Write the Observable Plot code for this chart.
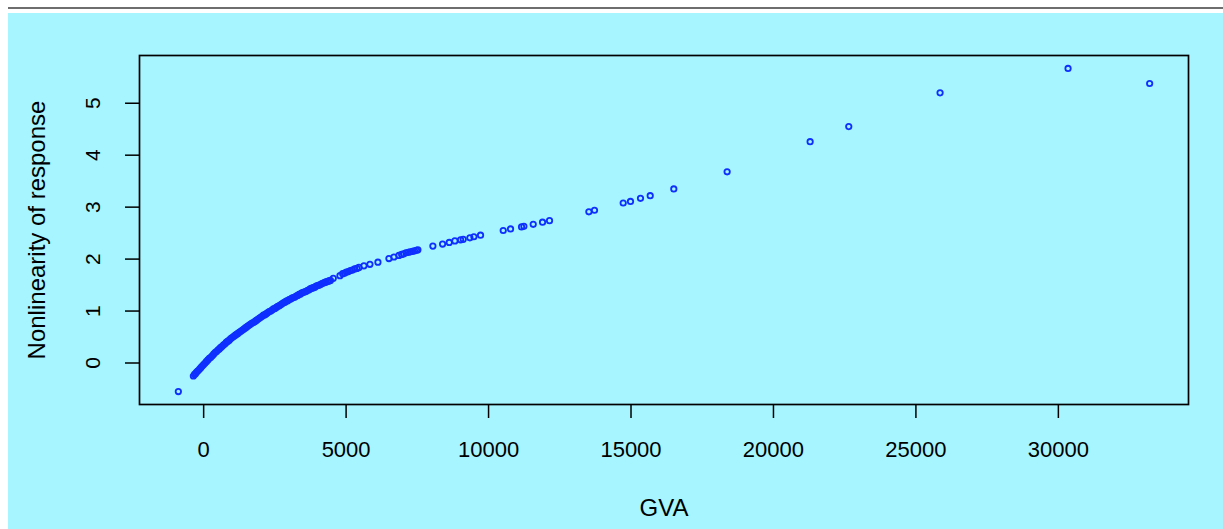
<!DOCTYPE html>
<html><head><meta charset="utf-8">
<script src="https://cdn.jsdelivr.net/npm/d3@7"></script>
<script src="https://cdn.jsdelivr.net/npm/@observablehq/plot@0.6"></script>
<style>
html,body{margin:0;padding:0;background:#fff;width:1223px;height:529px;overflow:hidden;}
#rule{position:absolute;left:8px;top:7px;width:1215px;height:2px;background:#6e6e6e;}
#panel{position:absolute;left:8px;top:13px;width:1215px;height:516px;background:#a6f5ff;}
#chart{position:absolute;left:0;top:0;}
</style></head><body>
<div id="rule"></div><div id="panel"></div><div id="chart"></div>
<script>
// GVA values
const gva = [
  -888,
  -361,-320,-280,-240,-200,-150,-100,-50,0,50,100,150,200,250,300,350,400,450,500,550,600,650,700,750,800,850,900,950,1000,
  1050,1100,1150,1200,1250,1300,1350,1400,1450,1500,1550,1600,1650,1700,1750,1800,1850,1900,1950,2000,
  2050,2100,2150,2200,2250,2300,2350,2400,2450,2500,2550,2600,2650,2700,2750,2800,2850,2900,2950,3000,
  3050,3100,3150,3200,3250,3300,3350,3400,3450,3500,3550,3600,3650,3700,3750,3800,3850,3900,3950,4000,
  4050,4100,4150,4200,4250,4300,4350,4400,4450,
  4550,4784,4880,4950,5010,5080,5150,5220,5300,5380,5450,5626,5836,6117,6503,6679,6854,6950,7020,7100,
  7180,7250,7330,7400,7470,7520,
  8046,8386,8620,8818,9018,9111,9345,9485,9719,10515,10772,11158,11240,11568,11895,12140,13521,13719,
  14726,14982,15333,15674,16502,18374,21287,22643,25848,30340,33204
];
// Nonlinearity of response values
const nonlin = [
  -0.55,
  -0.25,-0.22,-0.20,-0.17,-0.15,-0.12,-0.09,-0.06,-0.03,0.00,0.03,0.06,0.09,0.11,0.14,0.17,0.20,0.22,0.25,0.27,0.30,0.32,0.35,0.37,0.40,0.42,0.44,0.47,0.49,
  0.51,0.53,0.55,0.57,0.59,0.61,0.63,0.65,0.67,0.69,0.71,0.73,0.75,0.77,0.78,0.80,0.82,0.84,0.86,0.88,
  0.90,0.92,0.93,0.95,0.97,0.99,1.00,1.02,1.04,1.05,1.07,1.09,1.10,1.12,1.14,1.16,1.17,1.19,1.20,1.22,
  1.23,1.25,1.26,1.27,1.29,1.30,1.32,1.33,1.35,1.36,1.37,1.38,1.40,1.41,1.43,1.44,1.45,1.46,1.48,1.49,
  1.50,1.51,1.53,1.54,1.55,1.56,1.57,1.58,1.59,
  1.63,1.68,1.72,1.73,1.75,1.76,1.78,1.79,1.81,1.82,1.84,1.87,1.90,1.94,2.01,2.04,2.07,2.09,2.10,2.12,
  2.13,2.14,2.15,2.16,2.17,2.18,
  2.25,2.29,2.32,2.35,2.37,2.38,2.41,2.43,2.46,2.55,2.58,2.62,2.63,2.67,2.71,2.74,2.91,2.94,
  3.08,3.11,3.17,3.22,3.35,3.68,4.26,4.55,5.20,5.67,5.38
];
const xTicks = [0, 5000, 10000, 15000, 20000, 25000, 30000];
const yTicks = [0, 1, 2, 3, 4, 5];
const xLabel = "GVA";
const yLabel = "Nonlinearity of response";

const data = gva.map((g, i) => ({gva: g, nl: nonlin[i]}));

// R-style 4% padding of the data range
function pad(ext) { const d = (ext[1] - ext[0]) * 0.04; return [ext[0] - d, ext[1] + d]; }
const xDomain = pad(d3.extent(gva));
const yDomain = pad(d3.extent(nonlin));

const font = "'Liberation Sans', Arial, Helvetica, sans-serif";
const plot = Plot.plot({
  width: 1223, height: 529,
  marginLeft: 139, marginRight: 35, marginTop: 55, marginBottom: 125,
  style: {background: "transparent", fontFamily: font, color: "#000", overflow: "visible"},
  x: {domain: xDomain},
  y: {domain: yDomain},
  marks: [
    Plot.axisX({ticks: xTicks, tickSize: 14, tickFormat: () => "", label: null, strokeWidth: 1.5}),
    Plot.axisY({ticks: yTicks, tickSize: 14, tickFormat: () => "", label: null, strokeWidth: 1.5}),
    Plot.dot(data, {x: "gva", y: "nl", r: 2.7, stroke: "#0f2fff", strokeWidth: 1.8, fill: "none"}),
    Plot.frame({stroke: "#000", strokeWidth: 1.7}),
    Plot.text(xTicks, {x: d => d, frameAnchor: "bottom", dy: 45, text: d => String(d), fontSize: 22, lineAnchor: "middle", fill: "#000"}),
    Plot.text(yTicks, {y: d => d, frameAnchor: "left", dx: -46, rotate: -90, text: d => String(d), fontSize: 21, lineAnchor: "middle", textAnchor: "middle", fill: "#000"}),
    Plot.text([xLabel], {frameAnchor: "bottom", dy: 104, text: d => d, fontSize: 24, lineAnchor: "middle", fill: "#000"}),
    Plot.text([yLabel], {frameAnchor: "left", dx: -102, rotate: -90, text: d => d, fontSize: 24, lineAnchor: "middle", textAnchor: "middle", fill: "#000"})
  ]
});
document.getElementById("chart").appendChild(plot);
</script>
</body></html>
